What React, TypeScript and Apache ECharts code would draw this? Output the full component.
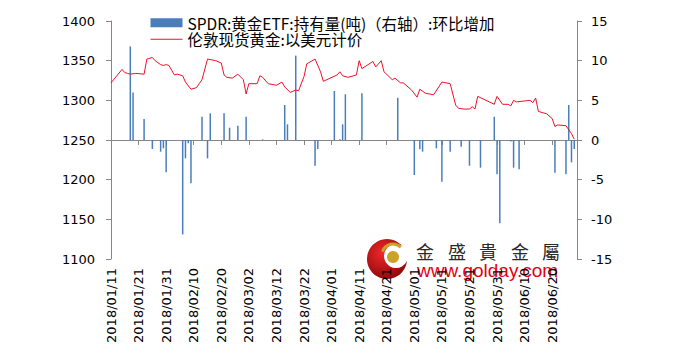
import React, { useEffect, useRef } from "react";
import * as echarts from "echarts";

const startDate = "2018/01/11";
const endDate = "2018/06/29";

const barName = "SPDR:黄金ETF:持有量(吨)（右轴）:环比增加";
const lineName = "伦敦现货黄金:以美元计价";

const barDates = [
  "2018/01/18", "2018/01/19", "2018/01/23", "2018/01/26", "2018/01/29", "2018/01/30", "2018/01/31",
  "2018/02/06", "2018/02/07", "2018/02/08", "2018/02/09", "2018/02/13", "2018/02/15", "2018/02/16",
  "2018/02/21", "2018/02/23", "2018/02/26", "2018/03/01", "2018/03/07", "2018/03/15", "2018/03/16",
  "2018/03/19", "2018/03/20", "2018/03/26", "2018/03/27", "2018/04/02", "2018/04/04", "2018/04/05",
  "2018/04/06", "2018/04/12", "2018/04/25", "2018/05/01", "2018/05/03", "2018/05/04", "2018/05/09",
  "2018/05/11", "2018/05/14", "2018/05/18", "2018/05/21", "2018/05/25", "2018/05/30", "2018/05/31",
  "2018/06/01", "2018/06/05", "2018/06/06", "2018/06/08", "2018/06/21", "2018/06/25", "2018/06/26",
  "2018/06/27", "2018/06/28",
];
const barValues = [
  11.8, 6.0, 2.65, -1.13, -1.47, -1.05, -4.08,
  -11.9, -2.31, -0.4, -5.46, 2.94, -2.31, 3.36,
  3.36, 1.55, 1.81, 2.94, 0.08, 4.41, 1.97,
  10.63, -0.1, -3.24, -1.13, 6.18, 0.1, 1.97,
  5.76, 5.88, 5.34, -4.41, -1.18, -1.47, -1.05,
  -5.25, -1.47, -0.84, -3.24, -3.49, 2.94, -4.33,
  -10.5, -0.2, -3.49, -3.7, -4.12, -4.33, 4.41,
  -2.82, -1.13,
];

const priceDates = [
  "2018/01/11", "2018/01/15", "2018/01/16", "2018/01/17", "2018/01/18", "2018/01/20", "2018/01/23",
  "2018/01/24", "2018/01/26", "2018/01/27", "2018/01/29", "2018/01/30", "2018/01/31", "2018/02/01",
  "2018/02/03", "2018/02/04", "2018/02/06", "2018/02/07", "2018/02/09", "2018/02/11", "2018/02/12",
  "2018/02/13", "2018/02/15", "2018/02/18", "2018/02/20", "2018/02/21", "2018/02/22", "2018/02/24",
  "2018/02/26", "2018/02/28", "2018/03/01", "2018/03/02", "2018/03/05", "2018/03/06", "2018/03/07",
  "2018/03/09", "2018/03/12", "2018/03/14", "2018/03/15", "2018/03/17", "2018/03/19", "2018/03/20",
  "2018/03/22", "2018/03/23", "2018/03/26", "2018/03/28", "2018/03/29", "2018/04/03", "2018/04/04",
  "2018/04/05", "2018/04/07", "2018/04/10", "2018/04/11", "2018/04/12", "2018/04/16", "2018/04/17",
  "2018/04/19", "2018/04/20", "2018/04/23", "2018/04/24", "2018/04/26", "2018/04/27", "2018/04/30",
  "2018/05/02", "2018/05/03", "2018/05/05", "2018/05/08", "2018/05/11", "2018/05/14", "2018/05/16",
  "2018/05/17", "2018/05/19", "2018/05/21", "2018/05/22", "2018/05/23", "2018/05/24", "2018/05/27",
  "2018/05/30", "2018/05/31", "2018/06/02", "2018/06/04", "2018/06/05", "2018/06/06", "2018/06/07",
  "2018/06/12", "2018/06/13", "2018/06/14", "2018/06/15", "2018/06/18", "2018/06/20", "2018/06/21",
  "2018/06/22", "2018/06/25", "2018/06/27", "2018/06/28",
];
const priceValues = [
  1322, 1339, 1335, 1334, 1333, 1334, 1333,
  1352, 1354, 1350, 1345, 1344, 1345, 1344,
  1332, 1333, 1331, 1323, 1314, 1316, 1321,
  1326, 1352, 1350, 1347, 1332, 1329, 1328,
  1333, 1326, 1308, 1321, 1321, 1331, 1329,
  1321, 1319, 1323, 1317, 1310, 1313, 1312,
  1330, 1346, 1352, 1336, 1324, 1332, 1336,
  1331, 1329, 1332, 1350, 1340, 1349, 1342,
  1350, 1336, 1326, 1328, 1322, 1322, 1313,
  1304, 1314, 1309, 1307, 1323, 1321, 1294,
  1290, 1289, 1289, 1292, 1289, 1305, 1300,
  1295, 1305, 1295, 1295, 1293, 1300, 1298,
  1300, 1297, 1303, 1286, 1283, 1277, 1267,
  1269, 1268, 1258, 1251,
];

const leftTicks = { min: 1100, max: 1400, interval: 50 };
const rightTicks = { min: -15, max: 15, interval: 5 };

function buildDays(a: string, b: string): string[] {
  const p = (s: string) => {
    const [y, m, d] = s.split("/").map(Number);
    return Date.UTC(y, m - 1, d);
  };
  const out: string[] = [];
  for (let t = p(a); t <= p(b); t += 86400000) {
    const dt = new Date(t);
    const mm = String(dt.getUTCMonth() + 1).padStart(2, "0");
    const dd = String(dt.getUTCDate()).padStart(2, "0");
    out.push(`${dt.getUTCFullYear()}/${mm}/${dd}`);
  }
  return out;
}

export default function App() {
  const ref = useRef<HTMLDivElement>(null);
  useEffect(() => {
    if (!ref.current) return;
    const chart = echarts.init(ref.current, undefined, { renderer: "svg" });
    const days = buildDays(startDate, endDate);
    const barData = days.map((d) => {
      const i = barDates.indexOf(d);
      return i >= 0 ? barValues[i] : null;
    });
    const lineData = days.map((d) => {
      const i = priceDates.indexOf(d);
      return i >= 0 ? priceValues[i] : null;
    });
    const axisColor = "#868686";
    const labelStyle = { fontSize: 13, color: "#000", fontFamily: "DejaVu Sans" };
    const wmChars = ["金", "盛", "貴", "金", "屬"];
    const wmX = [425, 457, 488, 520, 551];
    chart.setOption({
      animation: false,
      textStyle: { fontFamily: "DejaVu Sans" },
      legend: {
        orient: "vertical",
        left: 150,
        top: 15,
        padding: 0,
        itemGap: 1,
        itemWidth: 32,
        itemHeight: 9,
        textStyle: { fontFamily: "Noto Sans CJK SC", fontSize: 15.5, color: "#000", lineHeight: 15 },
        data: [
          { name: barName, icon: "rect" },
          { name: lineName, itemStyle: { opacity: 0 }, lineStyle: { color: "#f0102a", width: 1 } },
        ],
      },
      grid: { left: 111, right: 104, top: 21, bottom: 98 },
      xAxis: {
        type: "category",
        data: days,
        boundaryGap: false,
        axisLine: { lineStyle: { color: axisColor } },
        axisTick: { interval: 9, length: 5, lineStyle: { color: axisColor } },
        axisLabel: { ...labelStyle, interval: 9, rotate: 90, margin: 9 },
        splitLine: { show: false },
      },
      yAxis: [
        {
          type: "value",
          ...leftTicks,
          axisLine: { show: true, lineStyle: { color: axisColor } },
          axisTick: { show: true, length: 5, lineStyle: { color: axisColor } },
          axisLabel: { ...labelStyle, margin: 16, formatter: (v: number) => String(v) },
          splitLine: { show: false },
        },
        {
          type: "value",
          position: "right",
          ...rightTicks,
          axisLine: { show: true, lineStyle: { color: axisColor } },
          axisTick: { show: true, length: 5, lineStyle: { color: axisColor } },
          axisLabel: { ...labelStyle, margin: 14, formatter: (v: number) => String(v) },
          splitLine: { show: false },
        },
      ],
      series: [
        {
          type: "bar",
          name: barName,
          yAxisIndex: 1,
          data: barData,
          barWidth: 1.5,
          itemStyle: { color: "#4a7ebb" },
        },
        {
          type: "line",
          name: lineName,
          yAxisIndex: 0,
          data: lineData,
          connectNulls: true,
          symbol: "none",
          lineStyle: { color: "#f0102a", width: 1 },
          itemStyle: { color: "#f0102a" },
        },
      ],
      graphic: [
        {
          type: "group",
          z: 100,
          children: [
            {
              type: "circle",
              shape: { cx: 387, cy: 259, r: 20 },
              style: {
                fill: new echarts.graphic.RadialGradient(0.4, 0.35, 0.7, [
                  { offset: 0, color: "#f0282c" },
                  { offset: 1, color: "#8c0808" },
                ]),
              },
            },
            { type: "circle", shape: { cx: 396, cy: 256, r: 12 }, style: { fill: "#fff" } },
            {
              type: "arc",
              shape: { cx: 393, cy: 255, r: 11, startAngle: Math.PI * 1.1, endAngle: Math.PI * 1.75 },
              style: { stroke: "#c9a227", lineWidth: 3, fill: "none" },
            },
            { type: "circle", shape: { cx: 393, cy: 257, r: 6 }, style: { fill: "#c9a227" } },
            ...wmChars.map((c, i) => ({
              type: "text",
              x: wmX[i],
              y: 251,
              style: {
                text: c,
                fontSize: 18,
                fontFamily: "Noto Sans CJK TC",
                fill: "#2a2a2a",
                align: "center",
                verticalAlign: "middle",
                textAlign: "center",
                textVerticalAlign: "middle",
              },
            })),
            {
              type: "text",
              x: 417,
              y: 270,
              style: {
                text: "www.golday.com",
                fontSize: 19,
                fontFamily: "Liberation Sans",
                fill: "#e60012",
                align: "left",
                verticalAlign: "middle",
                textAlign: "left",
                textVerticalAlign: "middle",
              },
            },
          ],
        },
      ],
    });
    return () => chart.dispose();
  }, []);
  return (
    <div
      ref={ref}
      style={{ position: "fixed", left: 0, top: 0, width: 681, height: 357, background: "#fff" }}
    />
  );
}
